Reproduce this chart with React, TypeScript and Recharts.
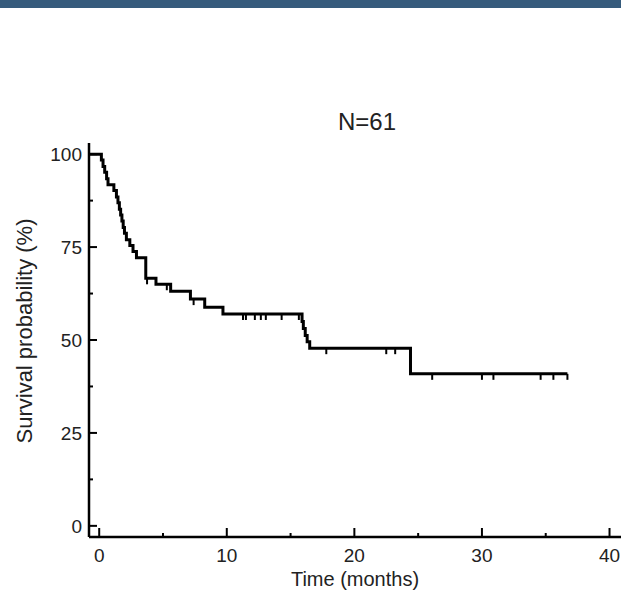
import React from 'react';
import { ComposedChart, Line, Scatter, XAxis, YAxis } from 'recharts';

const stepTimes = [-0.75, 0.17, 0.3, 0.43, 0.58, 0.69, 1.15, 1.35, 1.47, 1.58, 1.68, 1.78, 1.88, 1.98, 2.13, 2.4, 2.65, 2.92, 3.65, 4.45, 5.6, 7.15, 8.27, 9.7, 15.9, 16.0, 16.15, 16.3, 16.5, 24.4, 36.7];
const stepSurvival = [100, 98.4, 96.7, 95.1, 93.4, 91.8, 90.2, 88.5, 86.9, 85.2, 83.6, 82.0, 80.3, 78.7, 77.0, 75.4, 73.8, 72.1, 66.6, 65.0, 63.1, 61.0, 58.8, 57.0, 55.0, 53.1, 51.2, 49.5, 47.8, 40.9, 40.9];
const censorTimes = [3.75, 5.3, 7.4, 11.27, 11.5, 12.2, 12.67, 13.06, 14.3, 15.65, 17.8, 22.5, 23.2, 26.1, 30.0, 30.9, 34.6, 35.6, 36.7];
const censorSurvival = [66.6, 65.0, 61.0, 57.0, 57.0, 57.0, 57.0, 57.0, 57.0, 57.0, 47.8, 47.8, 47.8, 40.9, 40.9, 40.9, 40.9, 40.9, 40.9];

const xTicks = [0, 5, 10, 15, 20, 25, 30, 35, 40];
const xLabelTicks = [0, 10, 20, 30, 40];
const yTicks = [0, 12.5, 25, 37.5, 50, 62.5, 75, 87.5, 100];
const yLabelTicks = [0, 25, 50, 75, 100];

const titleText = 'N=61';
const xTitle = 'Time (months)';
const yTitle = 'Survival probability (%)';

const FONT = '"Liberation Sans", Arial, sans-serif';
const TEXT_COLOR = '#222';

const stepData = stepTimes.map((t, i) => ({ t, s: stepSurvival[i] }));
const censorData = censorTimes.map((t, i) => ({ t, s: censorSurvival[i] }));

const XTick = (props: any) => {
  const { x, y, payload } = props;
  const major = xLabelTicks.includes(payload.value);
  return (
    <g>
      <line x1={x} x2={x} y1={y} y2={y - (major ? 9 : 4)} stroke="#000" strokeWidth={2} />
      {major && (
        <text x={x} y={y + 25} textAnchor="middle" fontSize={19} fontFamily={FONT} fill={TEXT_COLOR}>
          {payload.value}
        </text>
      )}
    </g>
  );
};

const YTick = (props: any) => {
  const { x, y, payload } = props;
  const major = yLabelTicks.includes(payload.value);
  return (
    <g>
      <line x1={x} x2={x + (major ? 8 : 4)} y1={y} y2={y} stroke="#000" strokeWidth={2} />
      {major && (
        <text x={x - 7} y={y + 7} textAnchor="end" fontSize={19} fontFamily={FONT} fill={TEXT_COLOR}>
          {payload.value}
        </text>
      )}
    </g>
  );
};

const CensorMark = (props: any) => {
  const { cx, cy } = props;
  if (cx == null || cy == null) return null;
  return <line x1={cx} x2={cx} y1={cy} y2={cy + 6} stroke="#000" strokeWidth={2} />;
};

export default function App() {
  return (
    <div style={{ position: 'absolute', left: 0, top: 0, width: 621, height: 595, background: '#fff' }}>
      <ComposedChart width={621} height={595} margin={{ top: 143, right: 0, bottom: 0, left: 0 }}>
        <XAxis
          type="number"
          dataKey="t"
          domain={[-0.8, 40.9]}
          allowDataOverflow
          ticks={xTicks}
          interval={0}
          height={58}
          tickSize={0}
          tickMargin={0}
          tickLine={false}
          axisLine={{ stroke: '#000', strokeWidth: 2.5 }}
          tick={<XTick />}
        />
        <YAxis
          type="number"
          dataKey="s"
          domain={[-3, 103]}
          allowDataOverflow
          ticks={yTicks}
          interval={0}
          width={89}
          tickSize={0}
          tickMargin={0}
          tickLine={false}
          axisLine={{ stroke: '#000', strokeWidth: 2.5 }}
          tick={<YTick />}
        />
        <Line
          data={stepData}
          dataKey="s"
          type="stepAfter"
          stroke="#000"
          strokeWidth={3}
          dot={false}
          isAnimationActive={false}
        />
        <Scatter data={censorData} dataKey="s" shape={<CensorMark />} isAnimationActive={false} />
      </ComposedChart>
      <div style={{ position: 'absolute', left: 0, top: 0, width: 621, height: 8, background: '#365b7c' }} />
      <svg
        width={621}
        height={595}
        style={{ position: 'absolute', left: 0, top: 0, pointerEvents: 'none' }}
      >
        <text x={367} y={130} textAnchor="middle" fontSize={24} fontFamily={FONT} fill={TEXT_COLOR}>
          {titleText}
        </text>
        <text x={355} y={586} textAnchor="middle" fontSize={20} fontFamily={FONT} fill={TEXT_COLOR}>
          {xTitle}
        </text>
        <text
          x={32}
          y={331}
          textAnchor="middle"
          fontSize={22}
          fontFamily={FONT}
          fill={TEXT_COLOR}
          transform="rotate(-90, 32, 331)"
        >
          {yTitle}
        </text>
      </svg>
    </div>
  );
}
